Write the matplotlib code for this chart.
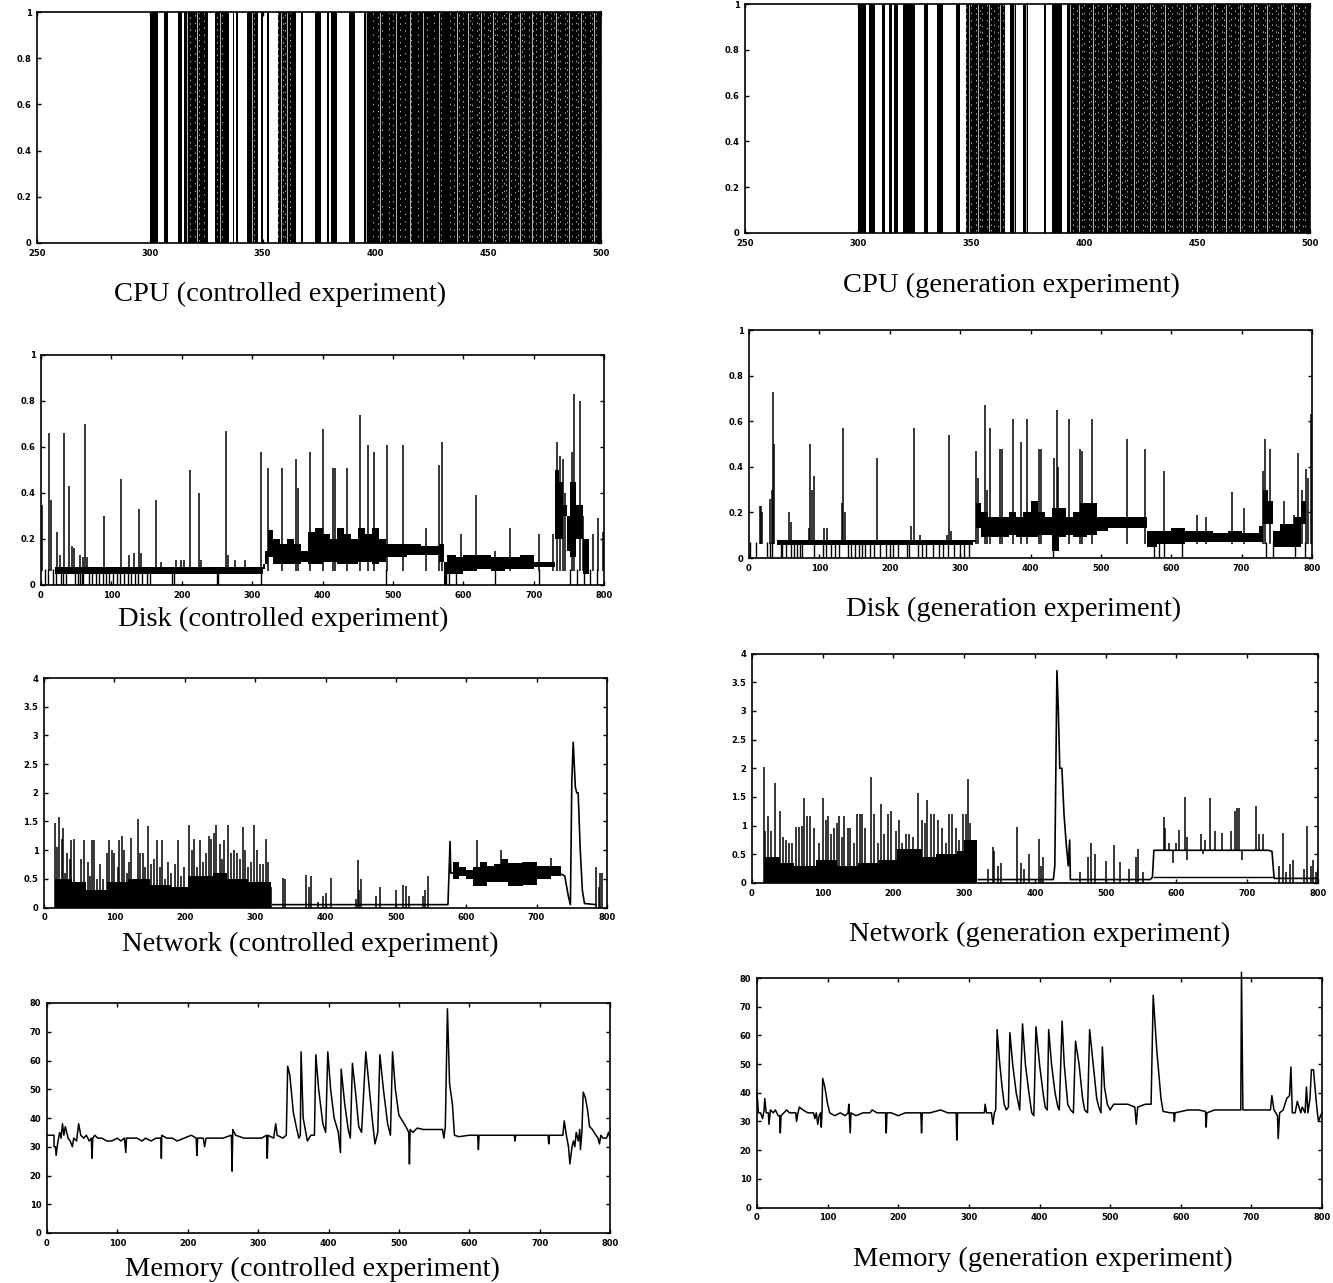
import matplotlib
matplotlib.use('Agg')
import matplotlib.pyplot as plt

W, H = 1333, 1283
plt.rcParams['hatch.linewidth'] = 1.0

# --- CPU: busy from 300 on, white gaps
cpu_c_gaps = [(303.7, 306.2), (308.2, 312.4), (314.4, 315.1), (325.8, 329), (334.9, 336.7), (337.5, 338.3),
              (338.9, 343.2), (348, 349.5), (350.3, 352), (353, 355), (355.2, 356.7), (364.8, 367.2),
              (367.9, 373.4), (375.7, 378.4), (379.4, 380.3), (383, 388.4), (391.1, 395.1)]
cpu_c_thin = [316.5, 321, 331, 345.5, 358, 361, 396, 402, 409, 415.5, 421, 428, 436, 441, 447, 452, 459, 464,
              469.5, 474.5, 480, 486, 491, 497]
cpu_c_dots = [318, 320, 322, 324, 330, 332, 346, 357, 359, 360, 362, 399, 401, 403, 406, 408, 411, 413, 416, 419,
              423, 426, 429, 433, 435, 437, 439, 442, 443, 445, 446, 448, 450, 451, 453, 454, 456, 457, 458, 460,
              462, 463, 465, 466, 468, 470, 471, 473, 475, 476, 478, 479, 481, 482, 484, 485, 487, 489, 490, 492,
              493, 495, 496, 498]
cpu_g_gaps = [(303.4, 304.9), (307.4, 310.4), (312, 313.5), (315.2, 315.9), (317.5, 320.1), (325, 329),
              (330.9, 335), (337.8, 338.4), (338.6, 343.5), (345.3, 347.7), (365, 367.3), (370, 373.2),
              (375.4, 382.2), (383.3, 385.8), (390.3, 392.3)]
cpu_g_thin = [349, 353, 358, 363, 369, 374.5, 394, 398, 404, 410, 416, 422, 429, 436, 444, 450, 457, 463, 469,
              475, 481, 487, 493]
cpu_g_dots = [348, 350, 352, 354, 355, 357, 359, 360, 362, 364, 395, 397, 399, 400, 402, 403, 405, 406, 408, 409,
              411, 412, 414, 415, 417, 418, 419, 421, 423, 424, 426, 427, 428, 430, 431, 432, 434, 435, 437, 438,
              439, 441, 442, 443, 445, 447, 448, 449, 451, 452, 454, 455, 456, 458, 459, 461, 462, 464, 465, 467,
              468, 470, 471, 473, 474, 476, 477, 479, 480, 482, 483, 485, 486, 488, 489, 491, 492, 494, 495, 497, 498]

# --- Disk
disk_c_x = [2, 12, 14, 23, 27, 33, 40, 44, 47, 55, 60, 63, 66, 90, 113, 125, 132, 139, 142, 163, 170, 192, 199, 203,
            212, 224, 228, 263, 266, 275, 290, 312, 323, 342, 362, 365, 382, 400, 415, 418, 435, 453, 465, 473, 492,
            515, 547, 565, 570, 597, 618, 645, 667, 708, 727, 733, 737, 742, 745, 755, 758, 766, 770, 785, 792, 798]
disk_c_y = [.35, .66, .37, .23, .13, .66, .43, .17, .16, .13, .12, .7, .12, .3, .46, .13, .14, .33, .14, .37, .1, .11, .11,
            .11, .5, .4, .11, .67, .13, .11, .11, .58, .51, .51, .55, .42, .58, .68, .51, .51, .51, .74, .61, .58, .61,
            .61, .25, .52, .62, .22, .39, .15, .25, .22, .22, .62, .56, .55, .4, .58, .83, .8, .3, .22, .29, .23]
disk_c_band_x = [20, 60, 190, 200, 315, 318, 322, 330, 340, 350, 360, 370, 380, 390, 400, 410, 420, 430, 440, 450, 460, 470,
                 480, 490, 500, 520, 540, 565, 572, 577, 590, 600, 620, 640, 660, 680, 700, 730, 736, 742, 748, 752, 760,
                 770, 778]
disk_c_band_lo = [.05, .05, .05, .05, .07, .09, .12, .09, .09, .09, .09, .1, .09, .09, .1, .1, .09, .09, .09, .1, .1, .09,
                  .1, .12, .12, .13, .13, .1, 0, .05, .05, .06, .07, .06, .07, .07, .08, .2, .2, .3, .15, .12, .2, .05, .05]
disk_c_band_hi = [.08, .08, .08, .08, .09, .15, .24, .2, .18, .2, .18, .15, .23, .25, .22, .2, .25, .22, .2, .25, .22, .25,
                  .2, .18, .18, .18, .17, .18, .1, .13, .12, .13, .13, .12, .12, .13, .1, .5, .45, .35, .3, .45, .35, .2, .05]
disk_c_down = [5, 10, 17, 22, 28, 31, 35, 49, 52, 55, 58, 60, 68, 73, 78, 82, 88, 92, 97, 103, 108, 112, 118, 124, 128,
               133, 138, 144, 150, 155, 186, 189, 250, 252, 312, 490, 575, 580, 590, 645, 708, 752, 762, 772, 780, 790]

disk_g_x = [15, 17, 19, 30, 32, 34, 36, 57, 59, 85, 87, 90, 93, 107, 111, 132, 134, 137, 182, 230, 235, 243, 282, 284, 287,
            322, 325, 335, 338, 342, 356, 359, 375, 386, 395, 412, 415, 433, 437, 439, 454, 471, 473, 488, 537, 563, 590,
            636, 650, 687, 703, 730, 733, 740, 760, 775, 780, 786, 792, 795, 799]
disk_g_y = [.23, .23, .2, .26, .3, .73, .5, .2, .16, .13, .5, .3, .36, .13, .13, .24, .57, .2, .44, .14, .57, .1, .1, .54, .12,
            .47, .35, .67, .3, .57, .48, .48, .61, .51, .61, .48, .48, .44, .65, .4, .61, .48, .47, .61, .52, .48, .38,
            .19, .18, .29, .22, .38, .52, .48, .25, .19, .46, .3, .39, .35, .63]
disk_g_band_x = [40, 100, 200, 318, 322, 330, 340, 350, 360, 370, 380, 390, 400, 410, 420, 430, 440, 450, 460, 470, 480, 495,
                 510, 530, 550, 565, 580, 600, 620, 640, 660, 680, 700, 725, 730, 738, 745, 755, 765, 775, 785, 792]
disk_g_band_lo = [.055, .055, .055, .07, .13, .09, .09, .09, .09, .1, .09, .09, .09, .1, .1, .03, .09, .1, .09, .09, .1, .12,
                  .13, .13, .13, .05, .06, .06, .07, .07, .07, .07, .07, .07, .15, .15, .05, .05, .05, .05, .15, .15]
disk_g_band_hi = [.08, .08, .08, .08, .24, .2, .18, .18, .18, .2, .18, .2, .25, .2, .18, .22, .22, .18, .2, .24, .24, .18,
                  .18, .18, .18, .12, .12, .13, .12, .12, .11, .12, .11, .14, .3, .25, .12, .15, .15, .18, .25, .3]
disk_g_down = [2, 10, 26, 30, 33, 45, 47, 52, 60, 64, 68, 72, 76, 92, 105, 110, 116, 122, 128, 140, 145, 150, 156, 160, 165,
               172, 178, 186, 194, 200, 205, 212, 225, 228, 240, 246, 252, 262, 270, 276, 283, 292, 300, 305, 312, 432,
               575, 582, 590, 615, 735, 745, 776, 790]

# --- Network
net_c_x = [16, 18, 21, 25, 27, 30, 33, 37, 38, 43, 47, 52, 57, 62, 65, 68, 71, 76, 79, 84, 90, 92, 97, 100, 105, 107, 111, 114,
           118, 121, 124, 128, 133, 136, 140, 143, 148, 152, 156, 160, 165, 168, 172, 176, 180, 186, 190, 195, 199, 206,
           210, 213, 218, 222, 226, 230, 235, 238, 242, 245, 250, 253, 256, 261, 266, 270, 274, 279, 283, 286, 290, 294,
           298, 302, 307, 311, 315, 318, 322, 340, 342, 372, 376, 380, 390, 397, 400, 408, 444, 446, 448, 451, 472, 477,
           500, 510, 515, 519, 538, 542, 545, 785, 788, 790, 793]
net_c_y = [1.47, 1.05, 1.58, 1.2, 1.38, .6, .95, .85, 1.17, 1.2, .45, .85, 1.17, .8, .55, 1.17, 1.17, .5, .75, .5, .95, 1.17,
           1.0, .95, .7, 1.17, 1.25, 1.0, .6, .8, 1.22, .5, 1.55, .95, .95, .7, 1.42, .75, .85, 1.17, .7, 1.17, .5, .8, .6,
           .75, 1.17, .55, .7, 1.43, 1.0, 1.2, .7, 1.17, .8, .95, 1.25, 1.2, 1.3, 1.43, 1.1, .85, 1.17, 1.43, .95, 1.0, .95,
           .85, 1.4, 1.0, .7, .8, 1.43, 1.0, .75, .75, 1.2, .8, .35, .52, .5, .57, .35, .55, .1, .2, .25, .52, .15, .82, .3,
           .5, .2, .35, .3, .4, .38, .2, .2, .3, .55, .7, .35, .6, .6]
net_c_fill_x = [16, 40, 60, 90, 120, 150, 180, 205, 240, 260, 290, 322]
net_c_fill_hi = [.5, .45, .3, .45, .5, .4, .35, .55, .6, .5, .45, .35]
net_c_line_x = [325, 574, 577, 578, 581, 600, 660, 735, 740, 745, 748, 750, 752, 755, 757, 759, 762, 765, 768, 784]
net_c_line_y = [.05, .05, 1.15, .6, .6, .6, .58, .58, .55, .2, .05, 2.2, 2.88, 2.1, 2.0, 2.0, 1.0, .3, .07, .05]
net_c_band_x = [581, 590, 600, 610, 620, 630, 640, 650, 660, 680, 700, 720, 735]
net_c_band_lo = [.5, .55, .5, .38, .38, .45, .45, .45, .38, .4, .5, .55, .55]
net_c_band_hi = [.8, .7, .65, .7, .8, .72, .75, .85, .78, .8, .72, .72, .62]
net_c_top_x = [615, 650, 655, 680, 720]
net_c_top_y = [1.17, 1.0, .85, .8, .87]

net_g_x = [17, 19, 22, 27, 32, 39, 44, 48, 52, 57, 62, 67, 71, 73, 78, 82, 87, 94, 100, 104, 107, 112, 116, 120, 123, 127, 130,
           135, 138, 144, 148, 152, 156, 160, 168, 172, 178, 182, 187, 192, 197, 203, 208, 212, 218, 222, 227, 235, 240, 245,
           248, 253, 257, 263, 268, 274, 278, 283, 288, 292, 298, 302, 305, 308, 313, 316, 333, 340, 342, 348, 352, 374, 380,
           385, 392, 406, 408, 412, 463, 475, 479, 485, 500, 512, 520, 533, 543, 546, 552, 745, 750, 755, 760, 765, 780, 785,
           790, 793, 797, 800]
net_g_y = [2.03, .9, 1.17, .9, 1.75, 1.25, .8, .75, .7, .7, .97, .97, 1.0, 1.48, 1.17, 1.17, .95, .7, 1.48, 1.1, 1.17, .85, .95,
           1.05, 1.17, .8, 1.17, .95, .95, .7, 1.2, 1.2, 1.2, .95, 1.85, 1.2, .7, 1.38, .85, 1.2, 1.25, .9, 1.1, .7, .85, .85, .8,
           1.57, 1.1, 1.05, 1.45, 1.2, 1.2, 1.1, .95, .7, 1.2, 1.2, .95, .75, 1.2, 1.2, 1.82, 1.05, .75, .55, .25, .63, .55, .3,
           .35, .97, .35, .25, .5, .77, .3, .45, .2, .45, .7, .5, .38, .67, .37, .25, .45, .6, .2, .3, .88, .2, .33, .4, .25, 1.0,
           .3, .4, .2, .25]
net_g_fill_x = [17, 40, 60, 90, 120, 150, 180, 205, 240, 260, 290, 300, 318]
net_g_fill_hi = [.45, .35, .3, .4, .3, .35, .4, .6, .45, .5, .55, .75, .45]
net_g_line_x = [320, 426, 428, 431, 433, 435, 438, 441, 444, 447, 449, 450, 453, 563, 566, 568, 730, 735, 738, 800]
net_g_line_y = [.06, .06, .3, 3.7, 3.0, 2.0, 2.0, 1.2, .7, .3, .75, .06, .06, .06, .1, .57, .57, .55, .08, .08]
net_g_base_x = [568, 735]
net_g_base_y = [.1, .1]
net_g_top_x = [582, 584, 590, 600, 604, 612, 615, 635, 640, 647, 655, 665, 677, 683, 686, 689, 713, 716, 722]
net_g_top_y = [1.15, .95, .7, .7, .93, 1.5, .8, .85, .75, 1.48, .9, .88, .9, 1.25, 1.3, 1.3, 1.35, .85, .85]
net_g_bot_x = [595, 615, 637, 693]
net_g_bot_y = [.35, .4, .5, .4]

# --- Memory
mem_c_x = [0, 10, 10, 12, 13, 15, 18, 20, 22, 24, 26, 30, 33, 36, 38, 42, 45, 48, 52, 56, 60, 63, 64, 65, 68, 72, 78, 85, 92, 100,
           105, 110, 112, 113, 120, 128, 135, 140, 148, 155, 162, 162.5, 163, 170, 178, 185, 195, 205, 212, 213, 214, 222,
           224, 226, 235, 250, 262, 263, 264, 268, 280, 290, 305, 312, 313, 314, 322, 325, 327, 335, 340, 342, 345, 350, 355,
           358, 360, 361, 364, 367, 370, 375, 380, 382, 386, 392, 396, 399, 403, 408, 414, 417, 418, 423, 428, 431, 434, 438,
           443, 447, 453, 458, 462, 466, 470, 473, 478, 484, 488, 491, 495, 500, 505, 510, 514, 515, 516, 520, 526, 535, 545,
           555, 562, 564, 566, 569, 572, 576, 579, 585, 600, 612, 613, 614, 625, 640, 655, 664, 665, 666, 680, 700, 712, 713,
           714, 725, 733, 735, 738, 741, 743, 746, 748, 750, 752, 755, 757, 758, 760, 762, 765, 768, 771, 775, 780, 783, 785,
           787, 790, 795, 798, 800]
mem_c_y = [34, 34, 30, 30, 27, 31, 35, 33, 38, 34, 37, 33, 32, 30, 33, 32, 38, 34, 33, 34, 32, 33, 26, 33, 34, 33, 33, 32, 32, 33,
           32, 33, 28, 33, 33, 33, 32, 33, 32, 33, 33, 26, 34, 33, 33, 32, 33, 34, 33, 27, 33, 33,
           30, 33, 33, 33, 34, 21.5, 36, 34, 33, 33, 33, 34, 26, 34, 33, 38, 34, 33, 34, 58, 55, 42, 36,
           33, 34, 63, 40, 36, 32, 34, 34, 62, 50, 38, 35, 63, 50, 40, 35, 28, 57, 45, 36, 33, 59, 50,
           37, 35, 63, 50, 40, 31, 35, 62, 50, 38, 34, 63, 50, 41, 39, 37, 35, 24, 36, 35, 36.5, 36, 36,
           36, 36, 33, 37, 78, 52, 45, 34, 33.5, 34, 34, 29, 34, 34, 34, 34, 34, 32, 34, 34, 34, 34, 31,
           34, 34, 34, 39, 34, 30, 24, 30, 32, 30, 35, 32, 36, 29, 35, 49, 47, 43, 37, 36, 34, 33, 31,
           34, 33, 33, 35, 33]

mem_g_x = [0, 2, 5, 8, 10, 11, 13, 16, 17, 19, 23, 26, 30, 32, 33, 34, 38, 42, 46, 52, 55, 56, 58, 60, 65, 72, 80, 82, 84, 86, 88, 90,
           91, 92, 93, 96, 100, 103, 110, 118, 125, 129, 130, 132, 133, 140, 150, 160, 163, 170, 180, 182, 183, 184, 190, 200,
           210, 220, 232, 233, 234, 245, 260, 270, 282, 283, 284, 295, 310, 322, 323, 325, 332, 334, 336, 338, 340, 343, 347, 350,
           353, 356, 358, 362, 367, 372, 376, 380, 385, 389, 392, 395, 400, 405, 408, 411, 413, 417, 422, 426, 428, 432, 435, 440,
           444, 448, 451, 456, 461, 464, 468, 471, 476, 481, 484, 487, 489, 492, 496, 500, 505, 515, 525, 535, 537, 539, 550, 558,
           561, 566, 572, 575, 585, 590, 591, 592, 610, 625, 635, 636, 637, 648, 660, 680, 685, 686, 688, 700, 720, 727, 729, 732,
           737, 738, 740, 745, 750, 754, 756, 758, 762, 765, 770, 772, 776, 778, 780, 783, 785, 788, 790, 793, 795, 798, 800]
mem_g_y = [40, 33, 33, 31, 34, 38, 33, 33, 29, 34, 33, 34, 32, 32, 26, 32, 33, 34, 33, 33, 33, 30, 33, 35, 34, 33, 33, 31, 33, 29, 32, 33,
           28, 33, 45, 42, 36, 33, 32, 33, 32, 33, 36, 26, 33, 32, 33, 33, 34, 33, 33, 33, 26, 33, 33, 32,
           33, 33, 33, 26, 33, 33, 34, 33, 33, 23.5, 33, 33, 33, 33, 36, 33, 33, 29, 33, 34, 62, 52, 42, 36,
           34, 35, 61, 50, 40, 34, 64, 50, 40, 33, 32, 63, 50, 40, 35, 34, 62, 50, 40, 35, 34, 65, 50, 36,
           34, 33, 58, 50, 38, 34, 33, 62, 50, 38, 35, 33, 56, 42, 36, 34, 36, 36, 36, 35, 29, 35, 36, 36,
           74, 55, 38, 33.5, 33, 33, 30, 33, 34, 34, 33.5, 28, 33, 34, 34, 34, 34, 82, 34, 34, 34, 34, 39, 34,
           32, 24, 33, 34, 38, 39, 49, 33, 33, 37, 33, 35, 33, 42, 33, 38, 48, 48, 42, 34, 30, 32, 33]

cpu_xticks = [250, 300, 350, 400, 450, 500]
long_xticks = [0, 100, 200, 300, 400, 500, 600, 700, 800]
unit_yticks = [0, 0.2, 0.4, 0.6, 0.8, 1]
unit_ylabels = ['0', '0.2', '0.4', '0.6', '0.8', '1']
net_yticks = [0, 0.5, 1, 1.5, 2, 2.5, 3, 3.5, 4]
net_ylabels = ['0', '0.5', '1', '1.5', '2', '2.5', '3', '3.5', '4']
mem_yticks = [0, 10, 20, 30, 40, 50, 60, 70, 80]

HATCH = '|' * 16

fig = plt.figure(figsize=(W / 100, H / 100), dpi=100)


def panel(left, right, top, bottom, xticks, yticks, ylabels):
    ax = fig.add_axes([left / W, 1 - bottom / H, (right - left) / W, (bottom - top) / H])
    ax.set_xlim(xticks[0], xticks[-1])
    ax.set_ylim(yticks[0], yticks[-1])
    ax.set_xticks(xticks)
    ax.set_yticks(yticks)
    ax.set_yticklabels(ylabels)
    ax.tick_params(direction='in', length=3, width=1, top=True, right=True, pad=4)
    for lab in ax.get_xticklabels() + ax.get_yticklabels():
        lab.set_fontsize(6)
        lab.set_fontweight('bold')
    for s in ax.spines.values():
        s.set_linewidth(1.2)
    return ax


def draw_cpu(ax, gaps, thin, dots):
    ax.axvspan(300, 500, color='k', lw=0)
    for a, b in gaps:
        ax.axvspan(a, b, color='w', lw=0)
    ax.vlines(thin, 0, 1, color='w', lw=0.5)
    ax.vlines(dots, 0, 1, color='w', lw=0.5,
              linestyles=[(0, (2, 7)), (3, (2, 9)), (5, (2, 6)), (1, (2, 8))])


def draw_disk(ax, px, py, bx, lo, hi, down):
    ax.fill_between(bx, lo, hi, step='post', facecolor='none', edgecolor='k', hatch=HATCH, lw=0)
    ax.vlines(px, 0.06, py, color='k', lw=1.1)
    ax.vlines(down, 0, 0.07, color='k', lw=1)


ax = panel(37, 601, 12, 243, cpu_xticks, unit_yticks, unit_ylabels)
draw_cpu(ax, cpu_c_gaps, cpu_c_thin, cpu_c_dots)
ax = panel(745, 1310, 4, 233, cpu_xticks, unit_yticks, unit_ylabels)
draw_cpu(ax, cpu_g_gaps, cpu_g_thin, cpu_g_dots)

ax = panel(41, 604, 355, 585, long_xticks, unit_yticks, unit_ylabels)
draw_disk(ax, disk_c_x, disk_c_y, disk_c_band_x, disk_c_band_lo, disk_c_band_hi, disk_c_down)
ax = panel(749, 1312, 330, 558, long_xticks, unit_yticks, unit_ylabels)
draw_disk(ax, disk_g_x, disk_g_y, disk_g_band_x, disk_g_band_lo, disk_g_band_hi, disk_g_down)

ax = panel(44, 607, 678, 907.5, long_xticks, net_yticks, net_ylabels)
ax.fill_between(net_c_fill_x, 0, net_c_fill_hi, step='post', facecolor='none', edgecolor='k', hatch=HATCH, lw=0)
ax.vlines(net_c_x, 0, net_c_y, color='k', lw=1.1)
ax.plot(net_c_line_x, net_c_line_y, color='k', lw=1.2)
ax.fill_between(net_c_band_x, net_c_band_lo, net_c_band_hi, step='post', facecolor='none', edgecolor='k', hatch=HATCH, lw=0)
ax.vlines(net_c_top_x, 0.6, net_c_top_y, color='k', lw=1.1)

ax = panel(752, 1318, 653.5, 883, long_xticks, net_yticks, net_ylabels)
ax.fill_between(net_g_fill_x, 0, net_g_fill_hi, step='post', facecolor='none', edgecolor='k', hatch=HATCH, lw=0)
ax.vlines(net_g_x, 0, net_g_y, color='k', lw=1.1)
ax.plot(net_g_line_x, net_g_line_y, color='k', lw=1.2)
ax.plot(net_g_base_x, net_g_base_y, color='k', lw=1)
ax.vlines(net_g_top_x, 0.57, net_g_top_y, color='k', lw=1.1)
ax.vlines(net_g_bot_x, net_g_bot_y, 0.57, color='k', lw=1.1)

ax = panel(47, 610, 1003, 1233, long_xticks, mem_yticks, mem_yticks)
ax.plot(mem_c_x, mem_c_y, color='k', lw=1.1)
ax = panel(757, 1322, 978, 1207.5, long_xticks, mem_yticks, mem_yticks)
ax.plot(mem_g_x, mem_g_y, color='k', lw=1.1, clip_on=False)

titles = ['CPU (controlled experiment)', 'CPU (generation experiment)', 'Disk (controlled experiment)',
          'Disk (generation experiment)', 'Network (controlled experiment)', 'Network (generation experiment)',
          'Memory (controlled experiment)', 'Memory (generation experiment)']
title_x = [280, 1011, 283, 1014, 310, 1040, 312, 1043]
title_y = [294, 285, 619, 609, 944, 934, 1269, 1259]
for t, x, y in zip(titles, title_x, title_y):
    fig.text(x / W, 1 - y / H, t, ha='center', va='center', family='Liberation Serif', fontsize=20.5)

fig.savefig('out.png', dpi=100)
